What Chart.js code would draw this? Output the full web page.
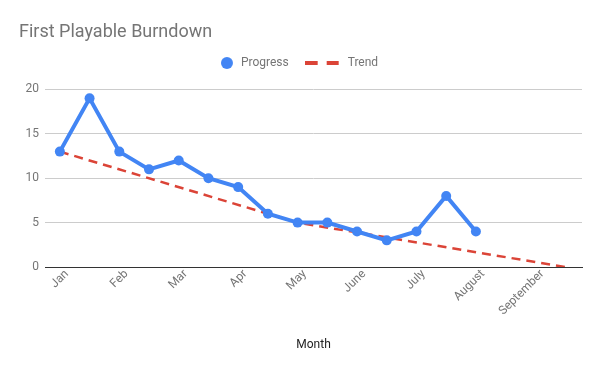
<!DOCTYPE html>
<html>
<head>
<meta charset="utf-8">
<title>First Playable Burndown</title>
<script src="https://cdn.jsdelivr.net/npm/chart.js@4"></script>
<style>
    html, body { margin: 0; padding: 0; background: #fff; }
    #wrap { width: 600px; height: 371px; }
</style>
</head>
<body>
<div id="wrap"><canvas id="burndown" width="600" height="371"></canvas></div>
<script>
// x is counted in half-month steps, 0 = start of Jan
const monthLabels = ['Jan', 'Feb', 'Mar', 'Apr', 'May', 'June', 'July', 'August', 'September'];
const progressX = [0, 1, 2, 3, 4, 5, 6, 7, 8, 9, 10, 11, 12, 13, 14];
const progressY = [13, 19, 13, 11, 12, 10, 9, 6, 5, 5, 4, 3, 4, 8, 4];
const trendX = [0, 8, 17];
const trendY = [13, 5, 0];

const BLUE = '#4285f4';
const RED = '#db4437';
const GREY = '#757575';

Chart.defaults.font.family = "Roboto, 'Noto Sans', sans-serif";
Chart.defaults.font.size = 12;
Chart.defaults.color = GREY;

// small canvases used as legend markers
function swatch(w, h, draw) {
    const c = document.createElement('canvas');
    c.width = w;
    c.height = h;
    draw(c.getContext('2d'));
    return c;
}
const dotIcon = swatch(16, 12, g => {
    g.fillStyle = BLUE;
    g.beginPath();
    g.arc(6, 6, 6, 0, Math.PI * 2);
    g.fill();
});
const dashIcon = swatch(62, 12, g => {
    g.strokeStyle = RED;
    g.lineWidth = 4;
    g.setLineDash([13, 9]);
    g.beginPath();
    g.moveTo(0, 6);
    g.lineTo(34, 6);
    g.stroke();
});

new Chart(document.getElementById('burndown'), {
    type: 'line',
    data: {
        datasets: [{
            label: 'Progress',
            data: progressX.map((x, i) => ({ x, y: progressY[i] })),
            borderColor: BLUE,
            backgroundColor: BLUE,
            borderWidth: 4,
            pointRadius: 5,
            pointBorderWidth: 0,
            tension: 0
        }, {
            label: 'Trend',
            data: trendX.map((x, i) => ({ x, y: trendY[i] })),
            borderColor: RED,
            backgroundColor: RED,
            borderWidth: 2.5,
            borderDash: [9, 6],
            pointRadius: 0,
            tension: 0
        }]
    },
    options: {
        responsive: false,
        animation: false,
        devicePixelRatio: 1,
        layout: { padding: { left: 19, right: 18, top: 0, bottom: 19 } },
        plugins: {
            title: {
                display: true,
                text: 'First Playable Burndown',
                align: 'start',
                color: GREY,
                font: { size: 18, weight: 'normal', lineHeight: 1 },
                padding: { top: 23, bottom: -25 }
            },
            legend: {
                position: 'top',
                align: 'center',
                labels: {
                    usePointStyle: true,
                    boxWidth: 12,
                    boxHeight: 12,
                    padding: 41,
                    color: GREY,
                    generateLabels: () => [
                        { text: 'Progress', pointStyle: dotIcon, fillStyle: BLUE, strokeStyle: BLUE, lineWidth: 0, hidden: false, datasetIndex: 0, fontColor: GREY },
                        { text: 'Trend', pointStyle: dashIcon, fillStyle: RED, strokeStyle: RED, lineWidth: 0, hidden: false, datasetIndex: 1, fontColor: GREY }
                    ]
                }
            },
            tooltip: { enabled: false }
        },
        scales: {
            x: {
                type: 'linear',
                min: -0.5,
                max: 17.57,
                afterBuildTicks: s => { s.ticks = monthLabels.map((m, i) => ({ value: i * 2 })); },
                afterFit: s => { s.height = 85; },
                ticks: {
                    autoSkip: false,
                    minRotation: 45,
                    maxRotation: 45,
                    padding: 0,
                    labelOffset: 7,
                    color: GREY,
                    callback: v => monthLabels[v / 2]
                },
                grid: { display: false, drawTicks: false },
                border: { color: '#333' },
                title: { display: true, text: 'Month', color: '#222', font: { size: 12 }, padding: 0 }
            },
            y: {
                min: 0,
                max: 21.18,   // headroom so 20 sits below the legend
                afterFit: s => { s.width = 26; },
                ticks: { stepSize: 5, includeBounds: false, padding: 6, color: GREY },
                grid: { color: c => c.tick.value === 0 ? '#333' : '#ccc', drawTicks: false },
                border: { display: false }
            }
        }
    }
});
</script>
</body>
</html>
